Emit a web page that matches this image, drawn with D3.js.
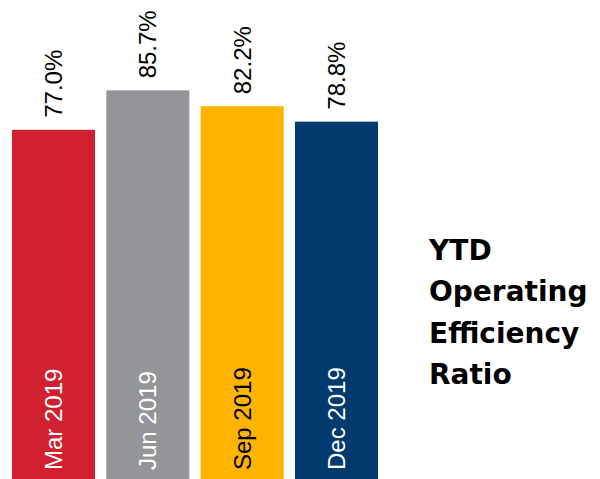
<!DOCTYPE html>
<html>
<head>
<meta charset="utf-8">
<script src="https://cdn.jsdelivr.net/npm/d3@7"></script>
<style>
  body { margin: 0; background: #fff; }
  svg { display: block; }
</style>
</head>
<body>
<div id="vis"></div>
<script>
const FRAME_WIDTH = 600;
const FRAME_HEIGHT = 479;

// data
const categories = ['Mar 2019', 'Jun 2019', 'Sep 2019', 'Dec 2019'];
const values = [77.0, 85.7, 82.2, 78.8];
const barColors = ['#d12030', '#939598', '#ffb400', '#013a6f'];
const labelColors = ['#ffffff', '#ffffff', '#000000', '#ffffff'];
const titleLines = ['YTD', 'Operating', 'Efficiency', 'Ratio'];

const FRAME = d3.select('#vis')
  .append('svg')
    .attr('width', FRAME_WIDTH)
    .attr('height', FRAME_HEIGHT);

// scales
const X_SCALE = d3.scaleBand()
  .domain(categories)
  .range([12, 378])
  .paddingInner(0.12)
  .paddingOuter(0);

const Y_SCALE = d3.scaleLinear()
  .domain([0, 100])
  .range([FRAME_HEIGHT, 25.5]);

FRAME.selectAll('.bar')
  .data(values)
  .enter()
  .append('rect')
    .attr('class', 'bar')
    .attr('x', (d, i) => X_SCALE(categories[i]))
    .attr('y', d => Y_SCALE(d))
    .attr('width', X_SCALE.bandwidth())
    .attr('height', d => FRAME_HEIGHT - Y_SCALE(d))
    .attr('fill', (d, i) => barColors[i]);

// value labels above bars, rotated
FRAME.selectAll('.val')
  .data(values)
  .enter()
  .append('text')
    .attr('class', 'val')
    .attr('transform', (d, i) => {
      const cx = X_SCALE(categories[i]) + X_SCALE.bandwidth() / 2;
      return 'translate(' + cx + ',' + (Y_SCALE(d) - 12) + ') rotate(-90)';
    })
    .attr('dy', '0.35em')
    .attr('font-family', '"Liberation Sans", Arial, sans-serif')
    .attr('font-size', '24px')
    .attr('fill', '#000')
    .text(d => d.toFixed(1) + '%');

// category labels inside bars
FRAME.selectAll('.cat')
  .data(categories)
  .enter()
  .append('text')
    .attr('class', 'cat')
    .attr('transform', d => {
      const cx = X_SCALE(d) + X_SCALE.bandwidth() / 2;
      return 'translate(' + cx + ',' + (FRAME_HEIGHT - 9) + ') rotate(-90)';
    })
    .attr('dy', '0.35em')
    .attr('font-family', '"Liberation Sans", Arial, sans-serif')
    .attr('font-size', '24px')
    .attr('fill', (d, i) => labelColors[i])
    .text(d => d);

// title, one line per text
FRAME.selectAll('.title')
  .data(titleLines)
  .enter()
  .append('text')
    .attr('class', 'title')
    .attr('x', 429)
    .attr('y', (d, i) => 260 + i * 41.3)
    .attr('font-family', '"DejaVu Sans", sans-serif')
    .attr('font-weight', 'bold')
    .attr('font-size', '28px')
    .attr('fill', '#000')
    .text(d => d);
</script>
</body>
</html>
